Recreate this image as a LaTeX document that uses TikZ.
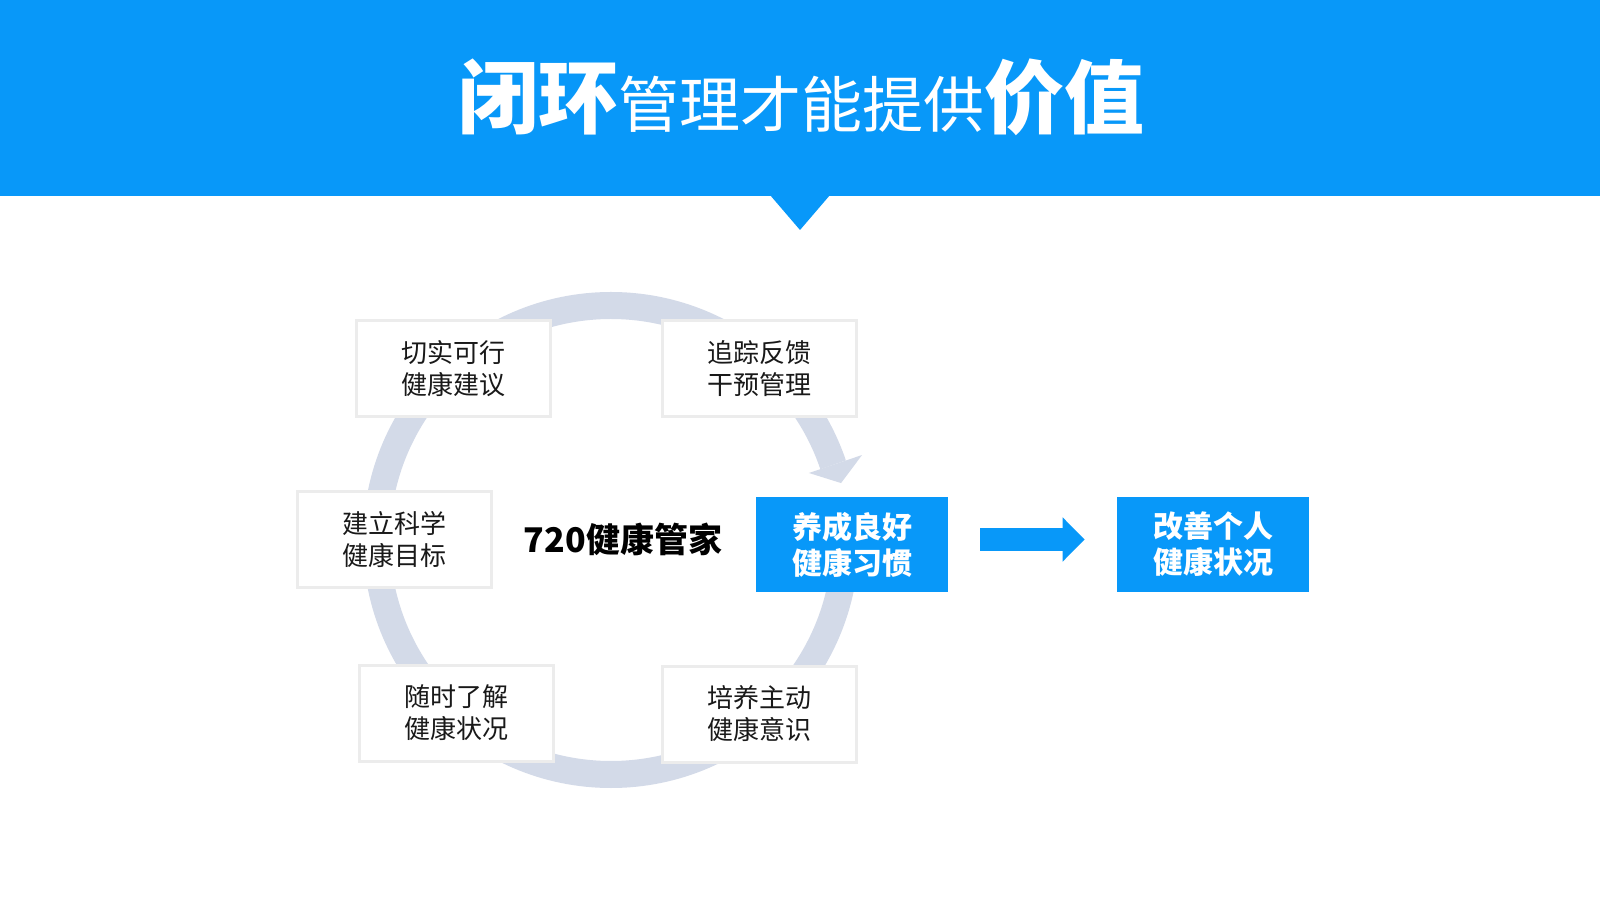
\documentclass[tikz,border=0pt]{standalone}
\usepackage{fontspec}
\setmainfont{Noto Sans CJK SC}
\usetikzlibrary{arrows.meta}
\definecolor{skyblue}{HTML}{0898F9}
\definecolor{ringgray}{HTML}{D3DAE8}
\definecolor{boxline}{HTML}{ECECEC}

\begin{document}
\begin{tikzpicture}[
  x=0.5pt, y=0.5pt,
  % white boxes sitting on the ring
  stagebox/.style={draw=boxline, line width=1.5pt, fill=white, minimum width=97pt, minimum height=48pt, inner sep=0pt, align=center, text=black!90, font=\fontsize{13pt}{16pt}\selectfont},
  % blue result boxes
  goalbox/.style={fill=skyblue, minimum width=96pt, minimum height=47.5pt, inner sep=0pt, align=center, text=white, font=\fontsize{15pt}{18pt}\selectfont\bfseries},
  ringband/.style={draw=ringgray, line width=13.5pt},
  blockarrow/.style={draw=skyblue, line width=11.5pt, -{Triangle[length=11pt,width=21.5pt]}}
]

\fill[white] (0,0) rectangle (1600,900);
\useasboundingbox (0,0) rectangle (1600,900);

% Header band with the notch
\fill[skyblue] (0,704) rectangle (1600,900);
\fill[skyblue] (770,705) -- (830,705) -- (800,670) -- cycle;
\node[text=white, anchor=base, inner sep=0pt] (title) at (801,772)
  {{\fontsize{40pt}{40pt}\selectfont\bfseries 闭环}{\fontsize{30.5pt}{30.5pt}\selectfont 管理才能提供}{\fontsize{40pt}{40pt}\selectfont\bfseries 价值}};

% Ring with its head
\coordinate (ctr) at (611,360);
\draw[ringband] ([shift={(0:234.5)}]ctr) arc[start angle=0, end angle=-341.3, radius=234.5];
\fill[ringgray] ([shift={(18.7:209)}]ctr) -- ([shift={(18.7:265)}]ctr) -- ([shift={(13.9:237)}]ctr) -- cycle;

\node[font=\fontsize{17pt}{20pt}\selectfont\bfseries] (hub) at (623,361) {720健康管家};

\node[stagebox] (advice) at (453.5,531) {切实可行\\健康建议};
\node[stagebox] (feedback) at (759,531) {追踪反馈\\干预管理};
\node[stagebox] (target) at (394,360.5) {建立科学\\健康目标};
\node[stagebox] (status) at (456,187) {随时了解\\健康状况};
\node[stagebox] (aware) at (759,186) {培养主动\\健康意识};

\node[goalbox] (habit) at (852,355.5) {养成良好\\健康习惯};
\node[goalbox] (improve) at (1213,355.5) {改善个人\\健康状况};

\draw[blockarrow] ([xshift=16pt,yshift=2.5pt]habit.east) -- ([xshift=-16pt,yshift=2.5pt]improve.west);

\end{tikzpicture}
\end{document}
